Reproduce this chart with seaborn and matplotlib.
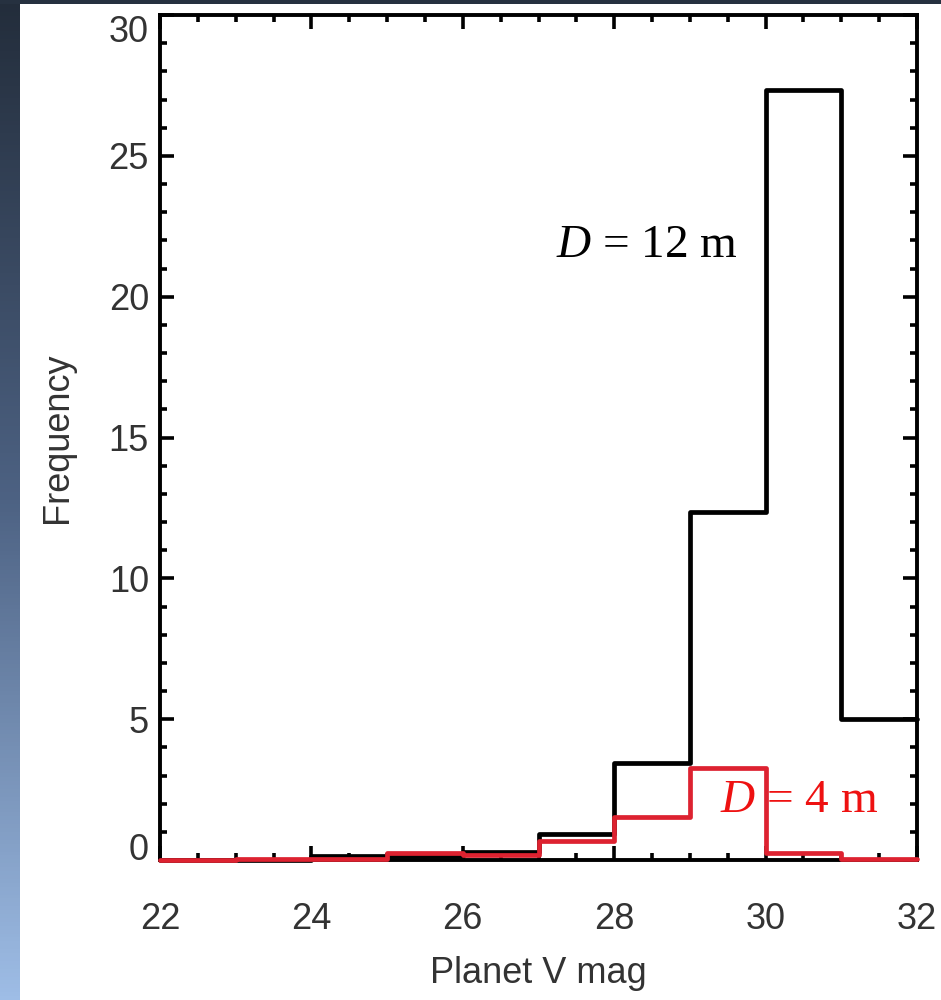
import numpy as np
import pandas as pd
import matplotlib
matplotlib.use("Agg")
import matplotlib.pyplot as plt
import seaborn as sns
from matplotlib.colors import LinearSegmentedColormap
from matplotlib.ticker import MultipleLocator

# ---- data ----
bin_edges = [22, 23, 24, 25, 26, 27, 28, 29, 30, 31, 32]
freq_12m = [0.0, 0.0, 0.15, 0.15, 0.28, 0.92, 3.45, 12.35, 27.35, 5.02]
freq_4m = [0.0, 0.02, 0.05, 0.25, 0.18, 0.68, 1.52, 3.25, 0.25, 0.02]
label_12m = "= 12 m"
label_4m = "= 4 m"
x_label = "Planet V mag"
y_label = "Frequency"

sns.set_style("ticks")
plt.rcParams["font.family"] = ["Liberation Sans", "DejaVu Sans"]
plt.rcParams["mathtext.fontset"] = "custom"
plt.rcParams["mathtext.it"] = "Liberation Serif:italic"
plt.rcParams["mathtext.rm"] = "Liberation Serif"

fig = plt.figure(figsize=(9.41, 10), dpi=100)
fig.patch.set_facecolor("white")

# background slide strip on the left and top
grad = np.linspace(0, 1, 256).reshape(-1, 1)
cmap = LinearSegmentedColormap.from_list("slide", ["#232d3b", "#4d6283", "#9ebde6"])
sax = fig.add_axes([0, 0, 20 / 941, 1])
sax.imshow(grad, aspect="auto", cmap=cmap, extent=[0, 1, 0, 1], origin="upper")
sax.axis("off")
tax = fig.add_axes([0, 1 - 4 / 1000, 1, 4 / 1000])
tax.set_facecolor("#263140")
tax.set_xticks([]); tax.set_yticks([])
for s in tax.spines.values():
    s.set_visible(False)

ax = fig.add_axes([160 / 941, 0.14, (917 - 160) / 941, (860 - 15) / 1000])

edges = np.array(bin_edges, dtype=float)
centers = (edges[:-1] + edges[1:]) / 2
df = pd.DataFrame({"mag": centers, "f12": freq_12m, "f4": freq_4m})

sns.histplot(data=df, x="mag", weights="f12", binwidth=1, binrange=(bin_edges[0], bin_edges[-1]),
             element="step", fill=False, color="black", linewidth=3.4, ax=ax)
sns.histplot(data=df, x="mag", weights="f4", binwidth=1, binrange=(bin_edges[0], bin_edges[-1]),
             element="step", fill=False, color="#dd2230", linewidth=3.4, ax=ax)
for ln in ax.lines:
    ln.set_clip_on(False)
    ln.set_zorder(3)

ax.set_xlim(22, 32)
ax.set_ylim(0, 30)
ax.xaxis.set_major_locator(MultipleLocator(2))
ax.xaxis.set_minor_locator(MultipleLocator(0.5))
ax.yaxis.set_major_locator(MultipleLocator(5))
ax.yaxis.set_minor_locator(MultipleLocator(1))
ax.tick_params(which="both", direction="in", top=True, right=True,
               width=2.6, color="black", labelcolor="#333333", labelsize=26)
ax.tick_params(which="major", length=10)
ax.tick_params(which="minor", length=5)
ax.tick_params(axis="x", which="major", pad=30)
ax.tick_params(axis="y", which="major", pad=8)
for s in ax.spines.values():
    s.set_linewidth(2.8)
    s.set_color("black")

ax.set_xlabel(x_label, fontsize=26, color="#333333", labelpad=14)
ax.set_ylabel(y_label, fontsize=26, color="#333333", labelpad=24)

fig.canvas.draw()
ylabels = ax.get_yticklabels()
for t in ylabels:
    if t.get_text() in ("0",):
        t.set_va("baseline")
    elif t.get_text() in ("30",):
        t.set_va("top")

ax.text(28.43, 21.8, "$D$ " + label_12m, fontsize=34, family="Liberation Serif",
        color="black", ha="center", va="center")
ax.text(30.45, 2.1, "$D$ " + label_4m, fontsize=34, family="Liberation Serif",
        color="#ee1111", ha="center", va="center", zorder=5)

fig.savefig("out.png", dpi=100)
